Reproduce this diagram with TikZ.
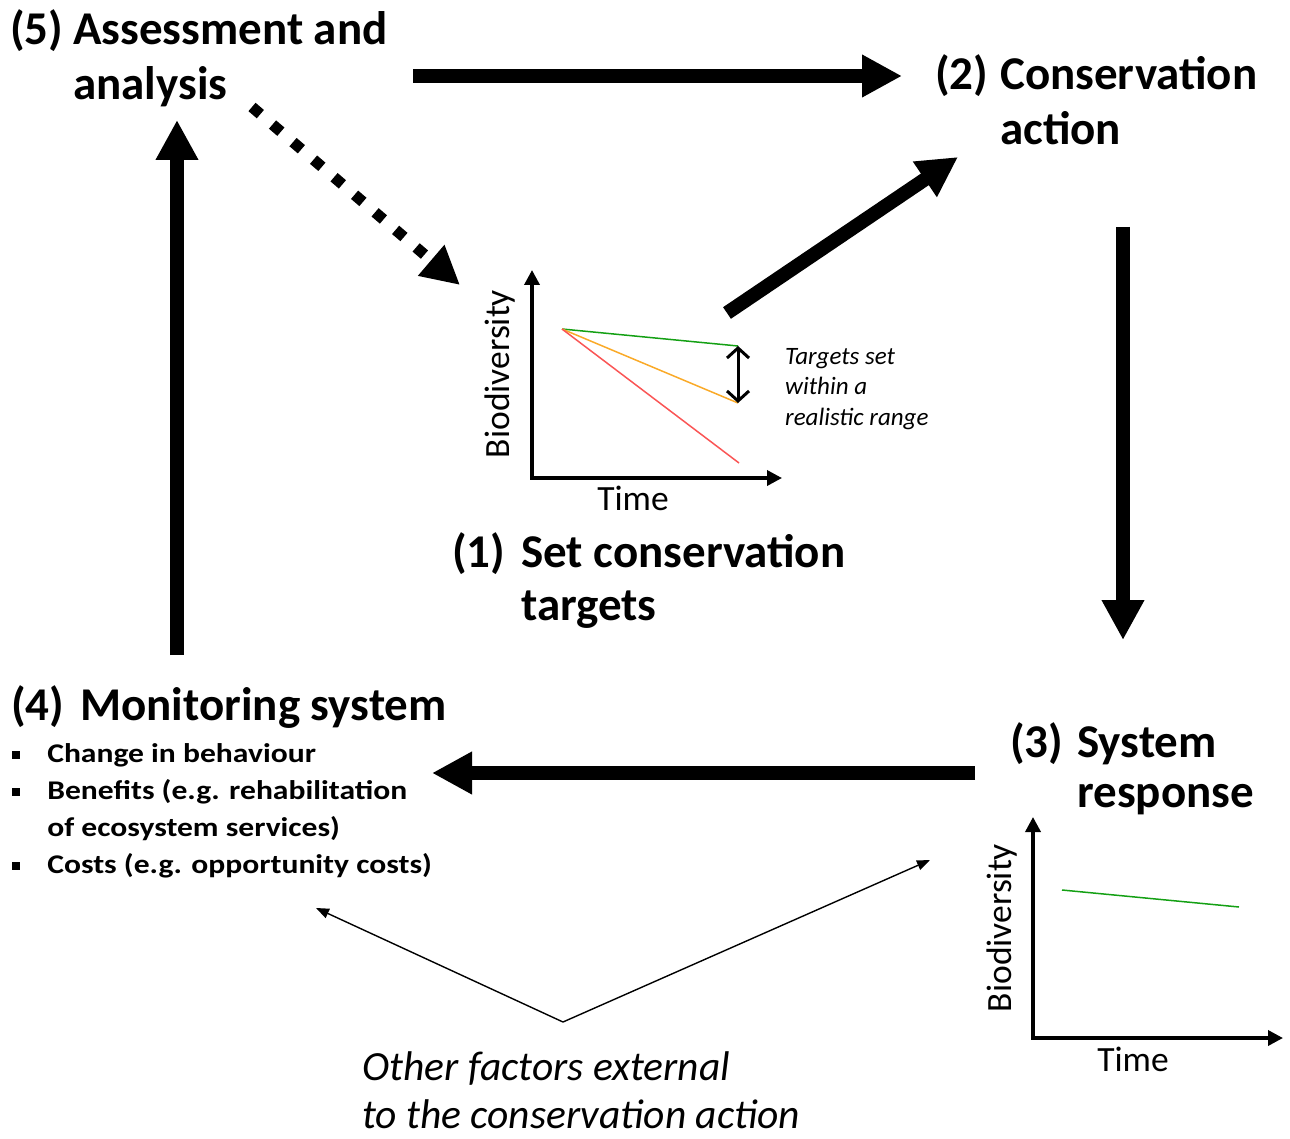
\documentclass[tikz,border=0pt]{standalone}
\usepackage{fontspec}
\setmainfont{Carlito}
\usetikzlibrary{arrows.meta}

\definecolor{trendgreen}{RGB}{20,160,20}
\definecolor{trendorange}{RGB}{250,170,40}
\definecolor{trendred}{RGB}{250,85,85}
\newcommand{\bsq}{\raisebox{3pt}{\rule{7pt}{8pt}}}

\begin{document}
\begin{tikzpicture}[x=1pt,y=-1pt,
    bigarrow/.style={line width=14pt, -{Triangle[length=40pt,width=40pt]}},
    dotarrow/.style={line width=11pt, dash pattern=on 11pt off 16pt, -{Triangle[length=38pt,width=38pt]}},
    thinarrow/.style={line width=1.4pt, -{Triangle[length=13pt,width=10pt]}},
    axes/.style={line width=3.5pt, {Triangle[length=15pt,width=15pt]}-{Triangle[length=15pt,width=15pt]}}]
  \useasboundingbox (0,0) rectangle (1290,1139);

  % stage labels
  \begin{scope}[every node/.style={inner sep=0pt, anchor=base west, font=\fontsize{47}{55}\selectfont\bfseries}]
    \node (n5) at (10,45) {(5)};
    \node (assess) at (73,45) {\begin{tabular}[t]{@{}l@{}}Assessment and\\analysis\end{tabular}};
    \node (n2) at (935,90) {(2)};
    \node (action) at (1000,90) {\begin{tabular}[t]{@{}l@{}}Conservation\\action\end{tabular}};
    \node (n1) at (452,567) {(1)};
    \node (targets) at (521,567) {\begin{tabular}[t]{@{}l@{}}Set conservation\\[-2pt]targets\end{tabular}};
    \node (n4) at (11,720) {(4)};
    \node (monitor) at (80,720) {Monitoring system};
    \node (n3) at (1010,757) {(3)};
    \node (response) at (1077,757) {\begin{tabular}[t]{@{}l@{}}System\\[-5pt]response\end{tabular}};
  \end{scope}

  \node[inner sep=0pt, anchor=base west, font=\fontsize{27}{37}\selectfont\bfseries] (items) at (12,762)
    {\scalebox{1.17}[1]{\begin{tabular}[t]{@{}l@{\hspace{23pt}}l@{}}
      \bsq & Change in behaviour\\
      \bsq & Benefits (e.g. rehabilitation\\
           & of ecosystem services)\\
      \bsq & Costs (e.g. opportunity costs)
    \end{tabular}}};

  \begin{scope}[every node/.style={inner sep=0pt, anchor=base west, font=\fontsize{41.5}{50}\selectfont\itshape}]
    \node (external) at (362,1080) {Other factors external};
    \node (external2) at (362,1128) {to the conservation action};
  \end{scope}

  % arrow ends
  \coordinate (assess-r) at (413,76);
  \coordinate (action-l) at (902,76);
  \coordinate (monitor-t) at (177,655);
  \coordinate (assess-b) at (177,120);
  \coordinate (action-b) at (1123,227);
  \coordinate (response-t) at (1123,640);
  \coordinate (response-l) at (975,773);
  \coordinate (monitor-r) at (432,773);
  \coordinate (chart-tr) at (727,313);
  \coordinate (action-bl) at (958,157);
  \coordinate (assess-br) at (252,107);
  \coordinate (chart-tl) at (460,285);
  \coordinate (ext) at (563,1022);
  \coordinate (monitor-br) at (316,908);
  \coordinate (response-bl) at (930,860);

  \path [bigarrow] (assess-r) edge (action-l);
  \path [bigarrow] (monitor-t) edge (assess-b);
  \path [bigarrow] (action-b) edge (response-t);
  \path [bigarrow] (response-l) edge (monitor-r);
  \path [bigarrow] (chart-tr) edge (action-bl);
  \path [dotarrow] (assess-br) edge (chart-tl);
  \path [thinarrow] (ext) edge (monitor-br);
  \path [thinarrow] (ext) edge (response-bl);

  % chart of targets
  \coordinate (y1) at (532,270);
  \coordinate (x1) at (782,478);
  \coordinate (s1) at (562,329);
  \coordinate (green1) at (738,346);
  \coordinate (orange1) at (738,403);
  \coordinate (red1) at (739,463);
  \draw[axes] (y1) |- (x1);
  \draw[trendgreen, line width=1.5pt] (s1) -- (green1);
  \draw[trendorange, line width=1.5pt] (s1) -- (orange1);
  \draw[trendred, line width=1.5pt] (s1) -- (red1);
  \draw[line width=3pt, {Straight Barb[length=10pt,width=22pt]}-{Straight Barb[length=10pt,width=22pt]}] (green1) -- (orange1);
  \node[rotate=90, font=\fontsize{35.5}{40}\selectfont] (bio1) at (500,374) {Biodiversity};
  \node[font=\fontsize{35.5}{40}\selectfont] (time1) at (633,498) {Time};
  \node[inner sep=0pt, anchor=base west, font=\fontsize{25}{31}\selectfont\itshape] (range) at (785,364)
    {\begin{tabular}[t]{@{}l@{}}Targets set\\within a\\realistic range\end{tabular}};

  % chart of response
  \coordinate (y2) at (1033,817);
  \coordinate (x2) at (1283,1038);
  \coordinate (s2) at (1062,890);
  \coordinate (green2) at (1239,907);
  \draw[axes] (y2) |- (x2);
  \draw[trendgreen, line width=1.5pt] (s2) -- (green2);
  \node[rotate=90, font=\fontsize{35.5}{40}\selectfont] (bio2) at (1002,928) {Biodiversity};
  \node[font=\fontsize{35.5}{40}\selectfont] (time2) at (1133,1059) {Time};
\end{tikzpicture}
\end{document}
